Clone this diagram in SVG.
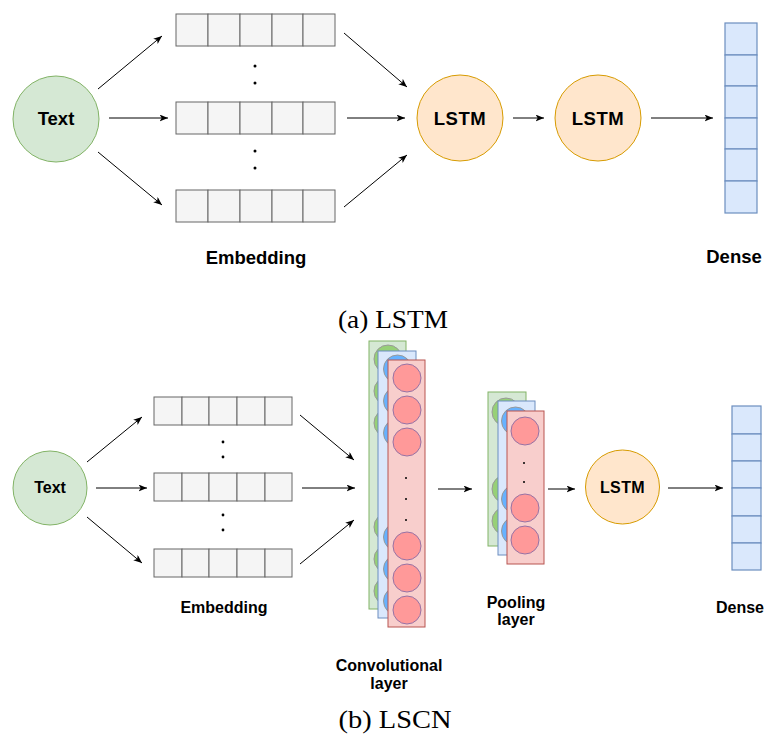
<svg xmlns="http://www.w3.org/2000/svg" width="766" height="738" viewBox="0 0 766 738">
  <defs>
    <marker id="arrow" markerWidth="9" markerHeight="8" refX="8.5" refY="3.5" orient="auto" markerUnits="userSpaceOnUse">
      <path d="M0,0 L8.5,3.5 L0,7 L2.2,3.5 z" fill="#000"/>
    </marker>
    <style>
      .lbl { font-family: "Liberation Sans", Arial, Helvetica, sans-serif; font-weight: bold; fill: #000; text-anchor: middle; }
      .big { font-size: 18.5px; }
      .small { font-size: 16px; }
      .cap { font-family: "Liberation Serif", "Times New Roman", serif; font-size: 25.5px; fill: #000; text-anchor: middle; }
      .edge { stroke: #000; stroke-width: 1; fill: none; marker-end: url(#arrow); }
      .cell { fill: #f5f5f5; stroke: #666; stroke-width: 1; }
      .dense { fill: #dae8fc; stroke: #6c8ebf; stroke-width: 1.2; }
      .text-node { fill: #d5e8d4; stroke: #82b366; stroke-width: 1; }
      .lstm-node { fill: #ffe6cc; stroke: #d79b00; stroke-width: 1; }
      .dot { fill: #000; }
      .g-rect { fill: #d5e8d4; stroke: #82b366; stroke-width: 1; }
      .b-rect { fill: #dae8fc; stroke: #6c8ebf; stroke-width: 1; }
      .r-rect { fill: #f8cecc; stroke: #b85450; stroke-width: 1; }
      .g-unit { fill: #97d077; stroke: #999; stroke-width: 1; }
      .b-unit { fill: #66b2ff; stroke: #999; stroke-width: 1; }
      .r-unit { fill: #ff9999; stroke: #9673a6; stroke-width: 1; }
    </style>
  </defs>
  <rect width="766" height="738" fill="#fff"/>

  <!-- ===================== (a) LSTM ===================== -->
  <g id="a-text">
    <circle class="text-node" cx="56" cy="119" r="43"/>
    <text class="lbl big" x="56" y="125" font-size="17.5">Text</text>
  </g>

  <g id="a-embedding">
    <g id="a-emb-row1">
      <rect class="cell" x="176" y="14" width="32" height="32"/>
      <rect class="cell" x="208" y="14" width="32" height="32"/>
      <rect class="cell" x="240" y="14" width="32" height="32"/>
      <rect class="cell" x="272" y="14" width="31" height="32"/>
      <rect class="cell" x="303" y="14" width="32" height="32"/>
    </g>
    <g id="a-emb-row2">
      <rect class="cell" x="176" y="102" width="32" height="32"/>
      <rect class="cell" x="208" y="102" width="32" height="32"/>
      <rect class="cell" x="240" y="102" width="32" height="32"/>
      <rect class="cell" x="272" y="102" width="31" height="32"/>
      <rect class="cell" x="303" y="102" width="32" height="32"/>
    </g>
    <g id="a-emb-row3">
      <rect class="cell" x="176" y="190" width="32" height="32"/>
      <rect class="cell" x="208" y="190" width="32" height="32"/>
      <rect class="cell" x="240" y="190" width="32" height="32"/>
      <rect class="cell" x="272" y="190" width="31" height="32"/>
      <rect class="cell" x="303" y="190" width="32" height="32"/>
    </g>
    <circle class="dot" cx="255" cy="66" r="1.5"/>
    <circle class="dot" cx="255" cy="83" r="1.5"/>
    <circle class="dot" cx="255" cy="151" r="1.5"/>
    <circle class="dot" cx="255" cy="168" r="1.5"/>
    <text class="lbl big" x="256" y="264">Embedding</text>
  </g>

  <g id="a-lstm1">
    <circle class="lstm-node" cx="460" cy="118" r="43"/>
    <text class="lbl big" x="460" y="125" letter-spacing="0.5">LSTM</text>
  </g>

  <g id="a-lstm2">
    <circle class="lstm-node" cx="598" cy="118" r="43"/>
    <text class="lbl big" x="598" y="125" letter-spacing="0.5">LSTM</text>
  </g>

  <g id="a-dense">
    <rect class="dense" x="725" y="23" width="32" height="32"/>
    <rect class="dense" x="725" y="55" width="32" height="31"/>
    <rect class="dense" x="725" y="86" width="32" height="32"/>
    <rect class="dense" x="725" y="118" width="32" height="31"/>
    <rect class="dense" x="725" y="149" width="32" height="32"/>
    <rect class="dense" x="725" y="181" width="32" height="32"/>
    <text class="lbl big" x="734" y="263">Dense</text>
  </g>

  <g id="a-connectors">
    <line class="edge" x1="98" y1="89" x2="162" y2="36"/>
    <line class="edge" x1="109" y1="118" x2="168" y2="118"/>
    <line class="edge" x1="98" y1="152" x2="162" y2="205"/>
    <line class="edge" x1="344" y1="33" x2="407" y2="87"/>
    <line class="edge" x1="347" y1="118" x2="405" y2="118"/>
    <line class="edge" x1="344" y1="207" x2="407" y2="155"/>
    <line class="edge" x1="513" y1="118" x2="544" y2="118"/>
    <line class="edge" x1="651" y1="118" x2="713" y2="118"/>
  </g>

  <text class="cap" x="393" y="328" textLength="110" lengthAdjust="spacingAndGlyphs">(a) LSTM</text>

  <!-- ===================== (b) LSCN ===================== -->
  <g id="b-text">
    <circle class="text-node" cx="50" cy="488" r="37"/>
    <text class="lbl small" x="50" y="493" font-size="15.5">Text</text>
  </g>

  <g id="b-embedding">
    <g id="b-emb-row1">
      <rect class="cell" x="154" y="397" width="28" height="28"/>
      <rect class="cell" x="182" y="397" width="27" height="28"/>
      <rect class="cell" x="209" y="397" width="28" height="28"/>
      <rect class="cell" x="237" y="397" width="28" height="28"/>
      <rect class="cell" x="265" y="397" width="27" height="28"/>
    </g>
    <g id="b-emb-row2">
      <rect class="cell" x="154" y="473" width="28" height="28"/>
      <rect class="cell" x="182" y="473" width="27" height="28"/>
      <rect class="cell" x="209" y="473" width="28" height="28"/>
      <rect class="cell" x="237" y="473" width="28" height="28"/>
      <rect class="cell" x="265" y="473" width="27" height="28"/>
    </g>
    <g id="b-emb-row3">
      <rect class="cell" x="154" y="549" width="28" height="28"/>
      <rect class="cell" x="182" y="549" width="27" height="28"/>
      <rect class="cell" x="209" y="549" width="28" height="28"/>
      <rect class="cell" x="237" y="549" width="28" height="28"/>
      <rect class="cell" x="265" y="549" width="27" height="28"/>
    </g>
    <circle class="dot" cx="223" cy="442" r="1.4"/>
    <circle class="dot" cx="223" cy="457" r="1.4"/>
    <circle class="dot" cx="223" cy="515" r="1.4"/>
    <circle class="dot" cx="223" cy="530" r="1.4"/>
    <text class="lbl small" x="224" y="613">Embedding</text>
  </g>

  <g id="b-conv">
    <!-- back feature map -->
    <rect class="g-rect" x="369" y="341" width="37" height="268"/>
    <circle class="g-unit" cx="388" cy="359" r="14"/>
    <circle class="g-unit" cx="388" cy="391" r="14"/>
    <circle class="g-unit" cx="388" cy="423" r="14"/>
    <circle class="g-unit" cx="388" cy="527" r="14"/>
    <circle class="g-unit" cx="388" cy="559" r="14"/>
    <circle class="g-unit" cx="388" cy="591" r="14"/>
    <!-- middle feature map -->
    <rect class="b-rect" x="378" y="351" width="38" height="267"/>
    <circle class="b-unit" cx="397.5" cy="369" r="14"/>
    <circle class="b-unit" cx="397.5" cy="401" r="14"/>
    <circle class="b-unit" cx="397.5" cy="433" r="14"/>
    <circle class="b-unit" cx="397.5" cy="537" r="14"/>
    <circle class="b-unit" cx="397.5" cy="569" r="14"/>
    <circle class="b-unit" cx="397.5" cy="601" r="14"/>
    <!-- front feature map -->
    <rect class="r-rect" x="388" y="360" width="37" height="267"/>
    <circle class="r-unit" cx="407" cy="378" r="14"/>
    <circle class="r-unit" cx="407" cy="410" r="14"/>
    <circle class="r-unit" cx="407" cy="442" r="14"/>
    <circle class="dot" cx="406" cy="478" r="1"/>
    <circle class="dot" cx="406" cy="499" r="1"/>
    <circle class="dot" cx="406" cy="520" r="1"/>
    <circle class="r-unit" cx="407" cy="546" r="14"/>
    <circle class="r-unit" cx="407" cy="578" r="14"/>
    <circle class="r-unit" cx="407" cy="610" r="14"/>
    <text class="lbl small" x="389" y="671" font-size="15.5">Convolutional</text>
    <text class="lbl small" x="389" y="689" font-size="15.5">layer</text>
  </g>

  <g id="b-pool">
    <rect class="g-rect" x="488" y="392" width="38" height="154"/>
    <circle class="g-unit" cx="506" cy="412" r="14"/>
    <circle class="g-unit" cx="506" cy="489" r="14"/>
    <circle class="g-unit" cx="506" cy="521" r="14"/>
    <rect class="b-rect" x="498" y="401" width="37" height="154"/>
    <circle class="b-unit" cx="515.5" cy="421" r="14"/>
    <circle class="b-unit" cx="515.5" cy="499" r="14"/>
    <circle class="b-unit" cx="515.5" cy="531" r="14"/>
    <rect class="r-rect" x="507" y="411" width="37" height="153"/>
    <circle class="r-unit" cx="525" cy="431" r="14"/>
    <circle class="dot" cx="524" cy="463" r="1"/>
    <circle class="dot" cx="524" cy="482" r="1"/>
    <circle class="r-unit" cx="525" cy="508" r="14"/>
    <circle class="r-unit" cx="525" cy="540" r="14"/>
    <text class="lbl small" x="516" y="608" font-size="15.5">Pooling</text>
    <text class="lbl small" x="516" y="625" font-size="15.5">layer</text>
  </g>

  <g id="b-lstm">
    <circle class="lstm-node" cx="622.5" cy="487" r="37"/>
    <text class="lbl small" x="622.5" y="493" letter-spacing="0.4">LSTM</text>
  </g>

  <g id="b-dense">
    <rect class="dense" x="732" y="406" width="29" height="28"/>
    <rect class="dense" x="732" y="434" width="29" height="27"/>
    <rect class="dense" x="732" y="461" width="29" height="27"/>
    <rect class="dense" x="732" y="488" width="29" height="28"/>
    <rect class="dense" x="732" y="516" width="29" height="27"/>
    <rect class="dense" x="732" y="543" width="29" height="27"/>
    <text class="lbl small" x="740" y="613">Dense</text>
  </g>

  <g id="b-connectors">
    <line class="edge" x1="87" y1="462" x2="142" y2="417"/>
    <line class="edge" x1="96" y1="488" x2="147" y2="488"/>
    <line class="edge" x1="87" y1="517" x2="142" y2="563"/>
    <line class="edge" x1="300" y1="415" x2="354" y2="460"/>
    <line class="edge" x1="302" y1="488" x2="355" y2="488"/>
    <line class="edge" x1="300" y1="564" x2="354" y2="520"/>
    <line class="edge" x1="438" y1="489" x2="472" y2="489"/>
    <line class="edge" x1="548" y1="489" x2="575" y2="489"/>
    <line class="edge" x1="668" y1="488" x2="723" y2="488"/>
  </g>

  <text class="cap" x="395" y="728" textLength="113" lengthAdjust="spacingAndGlyphs">(b) LSCN</text>
</svg>
